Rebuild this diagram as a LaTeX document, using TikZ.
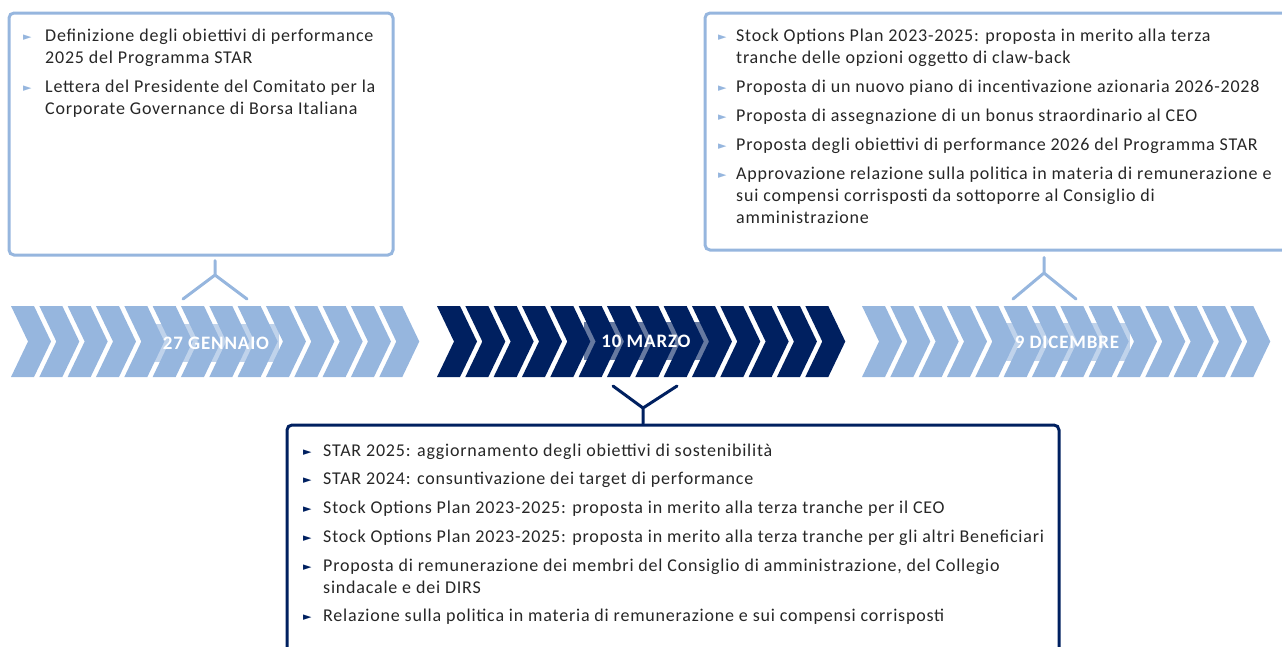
\documentclass[tikz,border=0pt]{standalone}
\usepackage{fontspec}
\setmainfont{Carlito}[LetterSpace=4.4]
\newfontfamily\symfont{DejaVu Sans}

\definecolor{starblue}{RGB}{150,182,222}
\definecolor{starnavy}{RGB}{0,32,96}
\definecolor{bodytext}{RGB}{38,38,38}

% small pointer used in front of every item
\newcommand{\bul}[2]{\makebox[#2][l]{\raisebox{1pt}{\symfont\fontsize{11}{11}\selectfont\textcolor{#1}{►}}}}

\tikzset{
	lightbox/.style={draw=starblue, line width=3pt, rounded corners=5pt},
	darkbox/.style={draw=starnavy, line width=3pt, rounded corners=5pt},
	itemtext/.style={anchor=north west, inner sep=0pt, text=bodytext,
		font=\fontsize{18}{22}\selectfont, align=left},
	datelabel/.style={fill opacity=0.6, text opacity=1, text=white,
		font=\bfseries\fontsize{19}{19}\selectfont,
		minimum width=125, minimum height=38, inner sep=0pt},
	fork/.style={line width=3pt, line cap=round}
}

\begin{document}
\begin{tikzpicture}[x=1pt, y=-1pt]
	\useasboundingbox (0,0) rectangle (1282,646);

	% chevron bands
	\foreach \x/\c in {11/starblue, 437/starnavy, 862/starblue}
		\foreach \i in {0,...,13}
			\fill[\c] ({\x+\i*28.33},306) -- ++(23,0) -- ++(17,35.5) -- ++(-17,35.5)
				-- ++(-23,0) -- ++(17,-35.5) -- cycle;

	\node[datelabel, fill=starblue] (jan) at (216,343) {27 GENNAIO};
	\node[datelabel, fill=starnavy] (mar) at (646,341) {10 MARZO};
	\node[datelabel, fill=starblue] (dic) at (1067,342) {9 DICEMBRE};

	% boxes
	\node[lightbox, minimum width=384, minimum height=242] (janbox) at (201,134) {};
	\node[lightbox, minimum width=590, minimum height=237] (dicbox) at (1000,131.5) {};
	\node[darkbox, minimum width=772, minimum height=240] (marbox) at (673,545) {};

	\node[itemtext] (jantext) at (23,25.6) {%
		\begin{tabular}{@{}l@{}l@{}}
		\bul{starblue}{22pt} & Definizione degli obiettivi di performance\\
		 & 2025 del Programma STAR\\[7pt]
		\bul{starblue}{22pt} & Lettera del Presidente del Comitato per la\\
		 & Corporate Governance di Borsa Italiana
		\end{tabular}};

	\node[itemtext] (dictext) at (718,25.6) {%
		\begin{tabular}{@{}l@{}l@{}}
		\bul{starblue}{18pt} & Stock Options Plan 2023-2025: proposta in merito alla terza\\
		 & tranche delle opzioni oggetto di claw-back\\[7pt]
		\bul{starblue}{18pt} & Proposta di un nuovo piano di incentivazione azionaria 2026-2028\\[7pt]
		\bul{starblue}{18pt} & Proposta di assegnazione di un bonus straordinario al CEO\\[7pt]
		\bul{starblue}{18pt} & Proposta degli obiettivi di performance 2026 del Programma STAR\\[7pt]
		\bul{starblue}{18pt} & Approvazione relazione sulla politica in materia di remunerazione e\\
		 & sui compensi corrisposti da sottoporre al Consiglio di\\
		 & amministrazione
		\end{tabular}};

	\node[itemtext] (martext) at (303,440.6) {%
		\begin{tabular}{@{}l@{}l@{}}
		\bul{starnavy}{20pt} & STAR 2025: aggiornamento degli obiettivi di sostenibilità\\[6.7pt]
		\bul{starnavy}{20pt} & STAR 2024: consuntivazione dei target di performance\\[6.7pt]
		\bul{starnavy}{20pt} & Stock Options Plan 2023-2025: proposta in merito alla terza tranche per il CEO\\[6.7pt]
		\bul{starnavy}{20pt} & Stock Options Plan 2023-2025: proposta in merito alla terza tranche per gli altri Beneficiari\\[6.7pt]
		\bul{starnavy}{20pt} & Proposta di remunerazione dei membri del Consiglio di amministrazione, del Collegio\\
		 & sindacale e dei DIRS\\[6.7pt]
		\bul{starnavy}{20pt} & Relazione sulla politica in materia di remunerazione e sui compensi corrisposti
		\end{tabular}};

	% forks between boxes and bands
	\coordinate (janfork) at (215,275);
	\coordinate (janleft) at (183,299);
	\coordinate (janright) at (247,299);
	\draw[fork, starblue] ([yshift=-4pt]janbox.south -| janfork) -- (janfork)
		(janfork) -- (janleft) (janfork) -- (janright);

	\coordinate (dicfork) at (1044,273);
	\coordinate (dicleft) at (1013,299);
	\coordinate (dicright) at (1076,299);
	\draw[fork, starblue] ([yshift=-6pt]dicbox.south -| dicfork) -- (dicfork)
		(dicfork) -- (dicleft) (dicfork) -- (dicright);

	\coordinate (marfork) at (643,408);
	\coordinate (marleft) at (613,386);
	\coordinate (marright) at (677,386);
	\draw[fork, starnavy] (marleft) -- (marfork) -- (marright)
		(marfork) -- (marbox.north -| marfork);
\end{tikzpicture}
\end{document}
